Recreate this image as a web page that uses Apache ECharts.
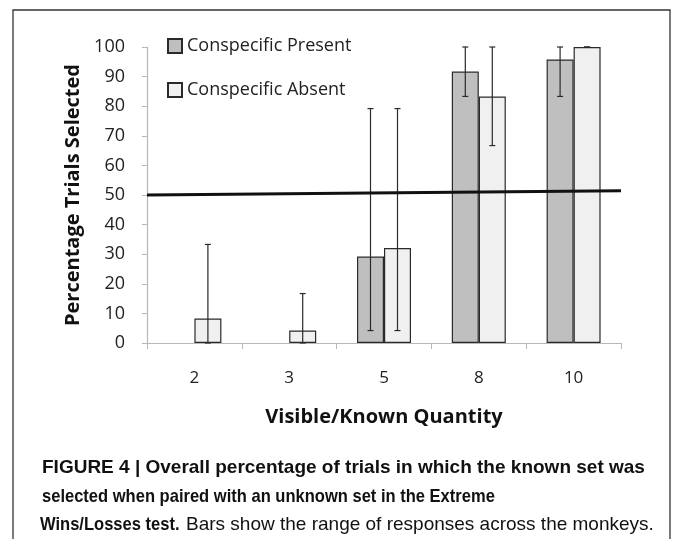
<!DOCTYPE html>
<html>
<head>
<meta charset="utf-8">
<script src="https://cdn.jsdelivr.net/npm/echarts@6/dist/echarts.min.js"></script>
<style>
  html, body { margin: 0; padding: 0; background: #fff; }
  #main { width: 673px; height: 539px; }
</style>
</head>
<body>
<div id="main"></div>
<script>
// 数据
var categories = ['2', '3', '5', '8', '10'];
var presentVals = [0, 0, 29.2, 91.7, 95.8];
var absentVals = [8.3, 4.2, 32.1, 83.3, 100];
// 误差范围 (最小/最大)
var presentLow = [null, null, 4.2, 83.3, 83.3];
var presentHigh = [null, null, 79.2, 100, 100];
var absentLow = [0, 0, 4.2, 66.7, 100];
var absentHigh = [33.3, 16.7, 79.2, 100, 100];
// 50% 参考线 (两端)
var refLine = [[0, 50], [1, 51.4]];

var chart = echarts.init(document.getElementById('main'));

function barData(vals) {
  return vals.map(function (v) {
    return v === 0 ? { value: 0, itemStyle: { borderWidth: 0 } } : v;
  });
}

function errData(lows, highs) {
  var out = [];
  for (var i = 0; i < lows.length; i++) {
    if (lows[i] != null) out.push([i, lows[i], highs[i]]);
  }
  return out;
}

// 误差线 renderItem
function errRender(offset) {
  return function (params, api) {
    var x = api.value(0);
    var lo = api.coord([x, api.value(1)]);
    var hi = api.coord([x, api.value(2)]);
    var cx = lo[0] + offset;
    var cap = 3;
    var st = { stroke: '#2a2a2a', lineWidth: 1.2 };
    return {
      type: 'group',
      children: [
        { type: 'line', shape: { x1: cx, y1: lo[1], x2: cx, y2: hi[1] }, style: st },
        { type: 'line', shape: { x1: cx - cap, y1: lo[1], x2: cx + cap, y2: lo[1] }, style: st },
        { type: 'line', shape: { x1: cx - cap, y1: hi[1], x2: cx + cap, y2: hi[1] }, style: st }
      ]
    };
  };
}

var font = '"Open Sans", "Noto Sans", sans-serif';
var capFont = '"Liberation Sans", Arial, sans-serif';

// 图注文字
function capText(x, y, text, weight, sx) {
  return {
    type: 'text',
    x: x,
    y: y,
    scaleX: sx,
    style: {
      text: text,
      font: weight + ' 19px ' + capFont,
      fill: '#111',
      verticalAlign: 'middle'
    }
  };
}

var option = {
  animation: false,
  backgroundColor: '#fff',
  textStyle: { fontFamily: font },
  grid: { left: 147, right: 52, top: 47, bottom: 196 },
  legend: {
    orient: 'vertical',
    left: 162,
    top: 32,
    itemGap: 26,
    itemWidth: 14,
    itemHeight: 14,
    icon: 'rect',
    textStyle: { fontSize: 18, color: '#222', fontFamily: font },
    data: ['Conspecific Present', 'Conspecific Absent']
  },
  xAxis: [{
    type: 'category',
    data: categories,
    axisLine: { lineStyle: { color: '#b8b8b8', width: 1.2 } },
    axisTick: { show: true, length: 6, lineStyle: { color: '#b8b8b8' } },
    axisLabel: { fontSize: 17, color: '#222', margin: 27 },
    name: 'Visible/Known Quantity',
    nameLocation: 'middle',
    nameGap: 64,
    nameTextStyle: { fontSize: 20, fontWeight: 'bold', color: '#111' }
  }, {
    type: 'value',
    min: 0,
    max: 1,
    show: false
  }],
  yAxis: {
    type: 'value',
    min: 0,
    max: 100,
    interval: 10,
    splitLine: { show: false },
    axisLine: { show: true, lineStyle: { color: '#b8b8b8', width: 1.2 } },
    axisTick: { show: true, length: 5, lineStyle: { color: '#b8b8b8' } },
    axisLabel: { fontSize: 18, color: '#222', margin: 22 },
    name: 'Percentage Trials Selected',
    nameLocation: 'middle',
    nameGap: 64,
    nameTextStyle: { fontSize: 20, fontWeight: 'bold', color: '#111' }
  },
  series: [{
    name: 'Conspecific Present',
    type: 'bar',
    barWidth: 27,
    barGap: '0%',
    data: barData(presentVals),
    itemStyle: { color: '#bfbfbf', borderColor: '#2a2a2a', borderWidth: 1.2 }
  }, {
    name: 'Conspecific Absent',
    type: 'bar',
    barWidth: 27,
    barGap: '0%',
    data: barData(absentVals),
    itemStyle: { color: '#f0f0f0', borderColor: '#2a2a2a', borderWidth: 1.2 }
  }, {
    type: 'custom',
    renderItem: errRender(-13.5),
    data: errData(presentLow, presentHigh),
    z: 5
  }, {
    type: 'custom',
    renderItem: errRender(13.5),
    data: errData(absentLow, absentHigh),
    z: 5
  }, {
    type: 'line',
    xAxisIndex: 1,
    data: refLine,
    symbol: 'none',
    lineStyle: { color: '#111', width: 3 },
    z: 10
  }],
  graphic: [{
    type: 'rect',
    shape: { x: 13, y: 10, width: 657, height: 540 },
    style: { fill: 'none', stroke: '#333', lineWidth: 1.3 },
    silent: true
  },
    capText(42, 468, 'FIGURE 4 | Overall percentage of trials in which the known set was', 'bold', 1.0),
    capText(42, 497, 'selected when paired with an unknown set in the Extreme', 'bold', 0.87),
    capText(40, 525, 'Wins/Losses test.', 'bold', 0.87),
    capText(186, 525, 'Bars show the range of responses across the monkeys.', 'normal', 1.0)
  ]
};

chart.setOption(option);
</script>
</body>
</html>
